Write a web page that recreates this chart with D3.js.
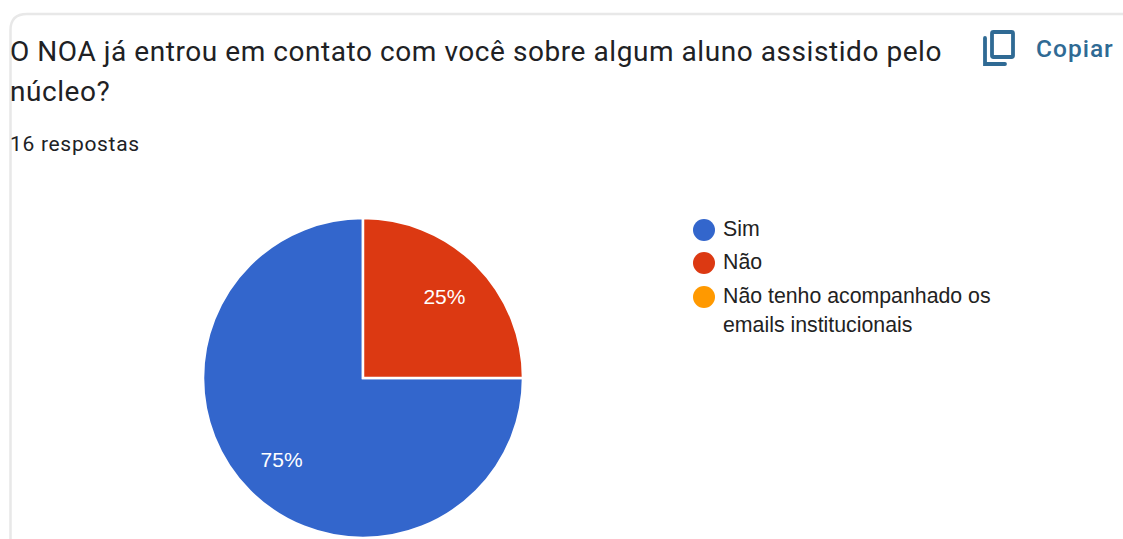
<!DOCTYPE html>
<html><head><meta charset="utf-8">
<script src="https://cdn.jsdelivr.net/npm/d3@7/dist/d3.min.js"></script>
<style>html,body{margin:0;padding:0;background:#fff;overflow:hidden}</style>
</head><body><svg id="chart" width="1123" height="539"></svg>
<script>
const categories = ["Sim", "Não", "Não tenho acompanhado os|emails institucionais"];
const responses = [12, 4, 0];
const sliceColors = ["#3366cc", "#dc3912", "#ff9900"];
const titleLines = ["O NOA já entrou em contato com você sobre algum aluno assistido pelo", "núcleo?"];
const countLabel = "16 respostas";
const copyLabel = "Copiar";

const svg = d3.select("#chart");

// Card outline: top edge with a rounded corner running down the left side
svg.append("path")
  .attr("d", "M10.5 539V30Q10.5 14 27 14H1123")
  .attr("fill", "none").attr("stroke", "#e8e8e8").attr("stroke-width", 2.5);

// Question heading
svg.append("g").selectAll("text").data(titleLines).join("text")
  .attr("x", 10).attr("y", (d, i) => 61 + i * 40)
  .attr("font-family", "Roboto").attr("font-size", 28).attr("letter-spacing", 0.56)
  .attr("fill", "#202124").text(d => d);

svg.append("text").attr("x", 10).attr("y", 151)
  .attr("font-family", "Roboto").attr("font-size", 21).attr("letter-spacing", 0.7)
  .attr("fill", "#202124").text(countLabel);

// Copy button
const copyIcon = svg.append("g").attr("fill", "none").attr("stroke", "#2f6a94").attr("stroke-width", 3.8);
copyIcon.append("rect").attr("x", 992).attr("y", 32).attr("width", 21).attr("height", 25).attr("rx", 1.5);
copyIcon.append("path").attr("d", "M985 38V64H1005").attr("stroke-linecap", "round");
svg.append("text").attr("x", 1036).attr("y", 57)
  .attr("font-family", "Roboto").attr("font-weight", 500).attr("font-size", 24.5).attr("letter-spacing", 1)
  .attr("fill", "#2f6a94").text(copyLabel);

// Pie: the first series starts at three o'clock and runs clockwise
const cx = 363, cy = 378, radius = 160;
const pie = d3.pie().sort(null).value(d => d)
  .startAngle(Math.PI / 2).endAngle(Math.PI * 2.5)(responses);
const arc = d3.arc().innerRadius(0).outerRadius(radius);
const plot = svg.append("g").attr("transform", `translate(${cx},${cy})`);
plot.selectAll("path").data(pie.filter(d => d.value > 0)).join("path")
  .attr("d", arc).attr("fill", d => sliceColors[d.index])
  .attr("stroke", "#fff").attr("stroke-width", 2.5);

const total = d3.sum(responses);
const labelArc = d3.arc().innerRadius(radius * 0.72).outerRadius(radius * 0.72);
plot.selectAll("text").data(pie.filter(d => d.value > 0)).join("text")
  .attr("transform", d => `translate(${labelArc.centroid(d)})`)
  .attr("text-anchor", "middle").attr("dy", "0.36em")
  .attr("font-family", "Liberation Sans").attr("font-size", 21).attr("fill", "#fff")
  .text(d => d3.format(".0%")(d.value / total));

// Legend
const rowY = d3.scaleOrdinal().domain(categories).range([230, 263, 297]);
const legend = svg.append("g").selectAll("g").data(categories).join("g")
  .attr("transform", d => `translate(0,${rowY(d)})`);
legend.append("circle").attr("cx", 704).attr("r", 11).attr("fill", (d, i) => sliceColors[i]);
legend.append("text")
  .attr("font-family", "Liberation Sans").attr("font-size", 21.3).attr("fill", "#222")
  .selectAll("tspan").data(d => d.split("|")).join("tspan")
  .attr("x", 723).attr("y", (d, i) => 6 + i * 29).text(d => d);
</script></body></html>
